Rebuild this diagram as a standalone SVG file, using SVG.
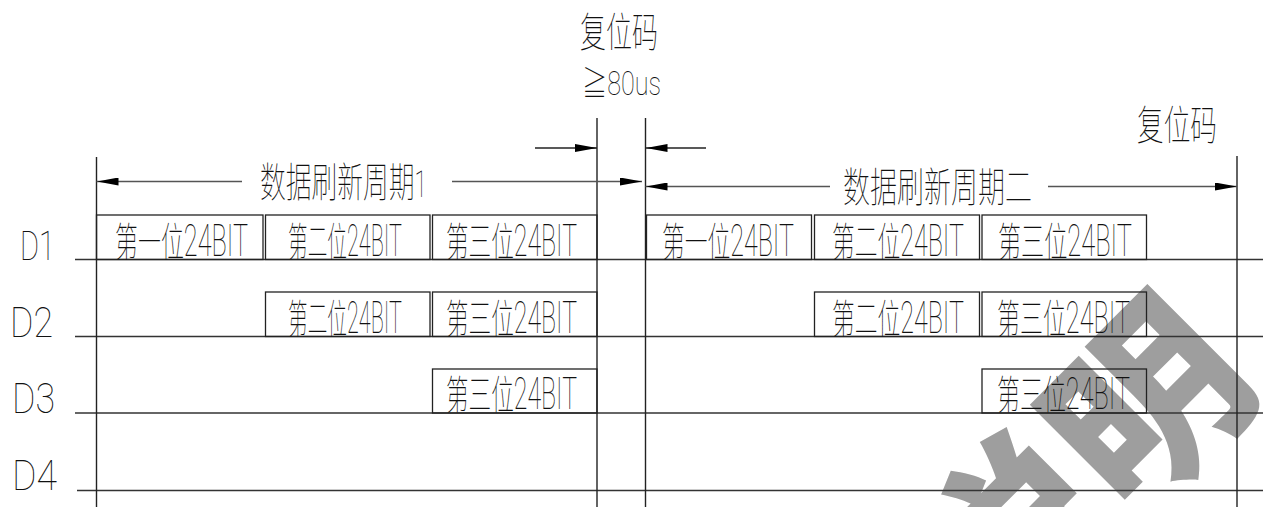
<svg xmlns="http://www.w3.org/2000/svg" width="1263" height="507" viewBox="0 0 1263 507">
<defs>
<style>
.t{font-family:"Roboto","Noto Sans CJK SC",sans-serif;font-weight:100;fill:#111}
.zh{font-size:40px}
.la{font-size:44px}
.row{stroke:#333;stroke-width:1.4;fill:none}
.vl{stroke:#222;stroke-width:1.4;fill:none}
.box{stroke:#222;stroke-width:1.3;fill:none}
.dim{stroke:#555;stroke-width:1.3;fill:none}
.wm{font-family:"Noto Sans CJK SC",sans-serif;font-weight:900;fill:#9e9e9e}
</style>
<marker id="ah" viewBox="0 0 22 8" refX="22" refY="4" markerWidth="22" markerHeight="8" markerUnits="userSpaceOnUse" orient="auto-start-reverse">
<path d="M0,0 L22,4 L0,8 Z" fill="#000"/>
</marker>
</defs>
<rect width="1263" height="507" fill="#fff"/>

<g id="watermark">
<text class="wm" font-size="190" transform="translate(1011.5,403) rotate(-45)" x="-190" y="167">说明</text>
</g>

<g id="labels">
<text class="t" x="20" y="260" font-size="40" textLength="35" lengthAdjust="spacingAndGlyphs">D1</text>
<text class="t" x="10" y="337" font-size="42" textLength="43" lengthAdjust="spacingAndGlyphs">D2</text>
<text class="t" x="12" y="413" font-size="42" textLength="43" lengthAdjust="spacingAndGlyphs">D3</text>
<text class="t" x="12" y="490" font-size="42" textLength="45" lengthAdjust="spacingAndGlyphs">D4</text>
</g>

<g id="grid">
<line class="row" x1="75" y1="259.5" x2="1263" y2="259.5"/>
<line class="row" x1="75" y1="336.5" x2="1263" y2="336.5"/>
<line class="row" x1="75" y1="413" x2="1263" y2="413"/>
<line class="row" x1="77" y1="490.5" x2="1263" y2="490.5"/>
<line class="vl" x1="96.5" y1="157" x2="96.5" y2="507"/>
<line class="vl" x1="597" y1="118" x2="597" y2="507"/>
<line class="vl" x1="645.5" y1="118" x2="645.5" y2="507"/>
<line class="vl" x1="1237" y1="156" x2="1237" y2="507"/>
</g>

<g id="top-labels">
<text class="t" x="580" y="47" font-size="41" textLength="78" lengthAdjust="spacingAndGlyphs">复位码</text>
<text class="t" x="582" y="95" font-size="33" textLength="79" lengthAdjust="spacingAndGlyphs">≧80us</text>
<text class="t" x="1137" y="140" font-size="41" textLength="80" lengthAdjust="spacingAndGlyphs">复位码</text>
<text class="t" x="260" y="197" textLength="167" lengthAdjust="spacingAndGlyphs"><tspan font-size="41">数据刷新周期</tspan><tspan font-size="36">1</tspan></text>
<text class="t" x="843" y="202" font-size="41" textLength="189" lengthAdjust="spacingAndGlyphs">数据刷新周期二</text>
</g>

<g id="connectors">
<line class="dim" x1="242" y1="181.5" x2="96.5" y2="181.5" marker-end="url(#ah)"/>
<line class="dim" x1="452" y1="181.5" x2="642" y2="181.5" marker-end="url(#ah)"/>
<line class="dim" x1="830" y1="186.5" x2="645.5" y2="186.5" marker-end="url(#ah)"/>
<line class="dim" x1="1048" y1="186.5" x2="1237" y2="186.5" marker-end="url(#ah)"/>
<line class="vl" x1="535" y1="148" x2="597" y2="148" marker-end="url(#ah)"/>
<line class="vl" x1="706" y1="148" x2="645.5" y2="148" marker-end="url(#ah)"/>
</g>

<g id="d1-bits">
<g id="d1-p1-b1"><rect class="box" x="96.5" y="215" width="166.5" height="44.5"/><text class="t" x="115" y="255.5" textLength="133" lengthAdjust="spacingAndGlyphs"><tspan class="zh">第一位</tspan><tspan class="la">24BIT</tspan></text></g>
<g id="d1-p1-b2"><rect class="box" x="265.5" y="215" width="164.5" height="44.5"/><text class="t" x="288" y="255.5" textLength="114" lengthAdjust="spacingAndGlyphs"><tspan class="zh">第二位</tspan><tspan class="la">24BIT</tspan></text></g>
<g id="d1-p1-b3"><rect class="box" x="432.5" y="215" width="164.5" height="44.5"/><text class="t" x="446" y="255.5" textLength="131" lengthAdjust="spacingAndGlyphs"><tspan class="zh">第三位</tspan><tspan class="la">24BIT</tspan></text></g>
<g id="d1-p2-b1"><rect class="box" x="646.5" y="215" width="165" height="44.5"/><text class="t" x="662" y="255.5" textLength="132" lengthAdjust="spacingAndGlyphs"><tspan class="zh">第一位</tspan><tspan class="la">24BIT</tspan></text></g>
<g id="d1-p2-b2"><rect class="box" x="814.5" y="215" width="165" height="44.5"/><text class="t" x="832" y="255.5" textLength="132" lengthAdjust="spacingAndGlyphs"><tspan class="zh">第二位</tspan><tspan class="la">24BIT</tspan></text></g>
<g id="d1-p2-b3"><rect class="box" x="982" y="215" width="164.5" height="44.5"/><text class="t" x="998" y="255.5" textLength="134" lengthAdjust="spacingAndGlyphs"><tspan class="zh">第三位</tspan><tspan class="la">24BIT</tspan></text></g>
</g>

<g id="d2-bits">
<g id="d2-p1-b2"><rect class="box" x="265.5" y="292" width="164.5" height="44.5"/><text class="t" x="288" y="332.5" textLength="114" lengthAdjust="spacingAndGlyphs"><tspan class="zh">第二位</tspan><tspan class="la">24BIT</tspan></text></g>
<g id="d2-p1-b3"><rect class="box" x="432.5" y="292" width="164.5" height="44.5"/><text class="t" x="446" y="332.5" textLength="131" lengthAdjust="spacingAndGlyphs"><tspan class="zh">第三位</tspan><tspan class="la">24BIT</tspan></text></g>
<g id="d2-p2-b2"><rect class="box" x="814.5" y="292" width="165" height="44.5"/><text class="t" x="832" y="332.5" textLength="132" lengthAdjust="spacingAndGlyphs"><tspan class="zh">第二位</tspan><tspan class="la">24BIT</tspan></text></g>
<g id="d2-p2-b3"><rect class="box" x="982" y="292" width="164.5" height="44.5"/><text class="t" x="997" y="332.5" textLength="133" lengthAdjust="spacingAndGlyphs"><tspan class="zh">第三位</tspan><tspan class="la">24BIT</tspan></text></g>
</g>

<g id="d3-bits">
<g id="d3-p1-b3"><rect class="box" x="432.5" y="369" width="164.5" height="44"/><text class="t" x="446" y="409" textLength="131" lengthAdjust="spacingAndGlyphs"><tspan class="zh">第三位</tspan><tspan class="la">24BIT</tspan></text></g>
<g id="d3-p2-b3"><rect class="box" x="982" y="369" width="164.5" height="44"/><text class="t" x="997" y="409" textLength="133" lengthAdjust="spacingAndGlyphs"><tspan class="zh">第三位</tspan><tspan class="la">24BIT</tspan></text></g>
</g>
</svg>
